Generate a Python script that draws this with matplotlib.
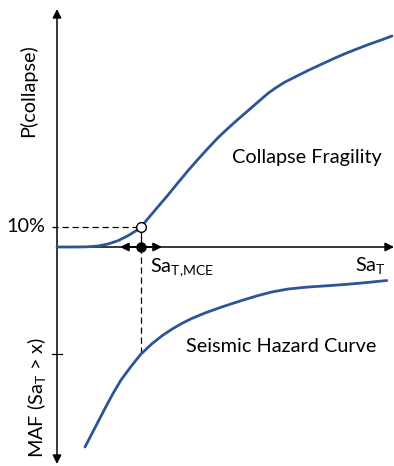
import matplotlib
matplotlib.use('Agg')
import matplotlib.pyplot as plt

plt.rcParams['font.family'] = ['Lato', 'DejaVu Sans']
plt.rcParams['mathtext.fontset'] = 'custom'
plt.rcParams['mathtext.rm'] = 'Lato'
plt.rcParams['mathtext.it'] = 'Lato'

# collapse fragility (upper half): Sa_T vs P(collapse), schematic units
frag_sa = [0, 18, 31, 41, 51, 61, 71, 80, 84, 91, 101, 111, 121, 131, 141, 151, 161, 171,
           181, 191, 201, 211, 220, 228, 238, 251, 265, 278, 288, 298, 311, 325, 335]
frag_p = [0, 0, 0.2, 1, 3, 6.3, 11.3, 16.8, 20, 28.5, 40.3, 52, 64.3, 76.3, 87.7, 98.7, 109.3, 118.7,
          127.7, 136.3, 145, 153.7, 160, 165, 170, 176.5, 183, 189, 193.3, 197.3, 202.3, 207.3, 211]

# seismic hazard curve (lower half, plotted downward)
haz_sa = [28, 35, 42, 49, 56, 64, 74, 84, 94.7, 104.7, 114.7, 124.7, 134.7, 148,
          164.7, 184.7, 201.3, 214.7, 231.3, 251.3, 271.3, 291.3, 311.3, 329.7]
haz_maf = [-200, -186.5, -173, -159.5, -146.5, -133, -119.5, -107, -97, -89, -82.3, -76.5, -71.5, -66,
           -60, -53.5, -48.5, -45, -42, -40, -38.7, -37.2, -35.4, -33.5]

sa_mce = 84
p_10 = 20
maf_mce = -107

blue = '#2C5597'
fs = 14.3

fig = plt.figure(figsize=(3.94, 4.66), dpi=100)
ax = fig.add_axes([0, 0, 1, 1])
ax.set_xlim(-57, 337)
ax.set_ylim(-219, 247)
ax.axis('off')

# axes with arrow heads
arrow = dict(arrowstyle='-|>', color='black', lw=1.1, mutation_scale=13, shrinkA=0, shrinkB=0)
ax.annotate('', xy=(0, 238), xytext=(0, 0), arrowprops=arrow)
ax.annotate('', xy=(0, -217), xytext=(0, 0), arrowprops=arrow)
ax.annotate('', xy=(337, 0), xytext=(0, 0), arrowprops=arrow)

# ticks on the vertical axis
ax.plot([-5, 5], [maf_mce, maf_mce], color='black', lw=0.9)

# dashed guides
ax.plot([-5, sa_mce], [p_10, p_10], color='black', lw=0.9, ls=(0, (5, 3)))
ax.plot([sa_mce, sa_mce], [0, maf_mce], color='black', lw=0.9, ls=(0, (5, 3)))
ax.plot([sa_mce, sa_mce], [0, p_10], color='black', lw=0.9)

ax.plot(frag_sa, frag_p, color=blue, lw=2.0, solid_capstyle='round', solid_joinstyle='round', zorder=3)
ax.plot(haz_sa, haz_maf, color=blue, lw=2.0, solid_capstyle='round', solid_joinstyle='round', zorder=3)

# MCE marker and its spread
small = dict(arrowstyle='-|>', color='black', lw=1.4, mutation_scale=12, shrinkA=0, shrinkB=0)
ax.annotate('', xy=(sa_mce - 21, 0), xytext=(sa_mce, 0), arrowprops=small)
ax.annotate('', xy=(sa_mce + 21, 0), xytext=(sa_mce, 0), arrowprops=small)
ax.plot(sa_mce, 0, 'o', color='black', ms=6.5, zorder=5)
ax.plot(sa_mce, p_10, 'o', mfc='white', mec='black', mew=1.0, ms=7, zorder=5)

ax.text(-12, p_10, '10%', ha='right', va='center', fontsize=fs)
ax.text(-29, 156, 'P(collapse)', rotation=90, ha='center', va='center', fontsize=fs)
ax.text(-20, -150, r'MAF (Sa$_{\mathrm{T}}$ > x)', rotation=90, ha='center', va='center', fontsize=fs)
ax.text(250, 89, 'Collapse Fragility', ha='center', va='center', fontsize=fs)
ax.text(224, -100, 'Seismic Hazard Curve', ha='center', va='center', fontsize=fs)
ax.text(93, -25, r'Sa$_{\mathrm{T{,}MCE}}$', ha='left', va='baseline', fontsize=fs)
ax.text(298, -24, r'Sa$_{\mathrm{T}}$', ha='left', va='baseline', fontsize=fs)

fig.savefig('out.png', dpi=100)
